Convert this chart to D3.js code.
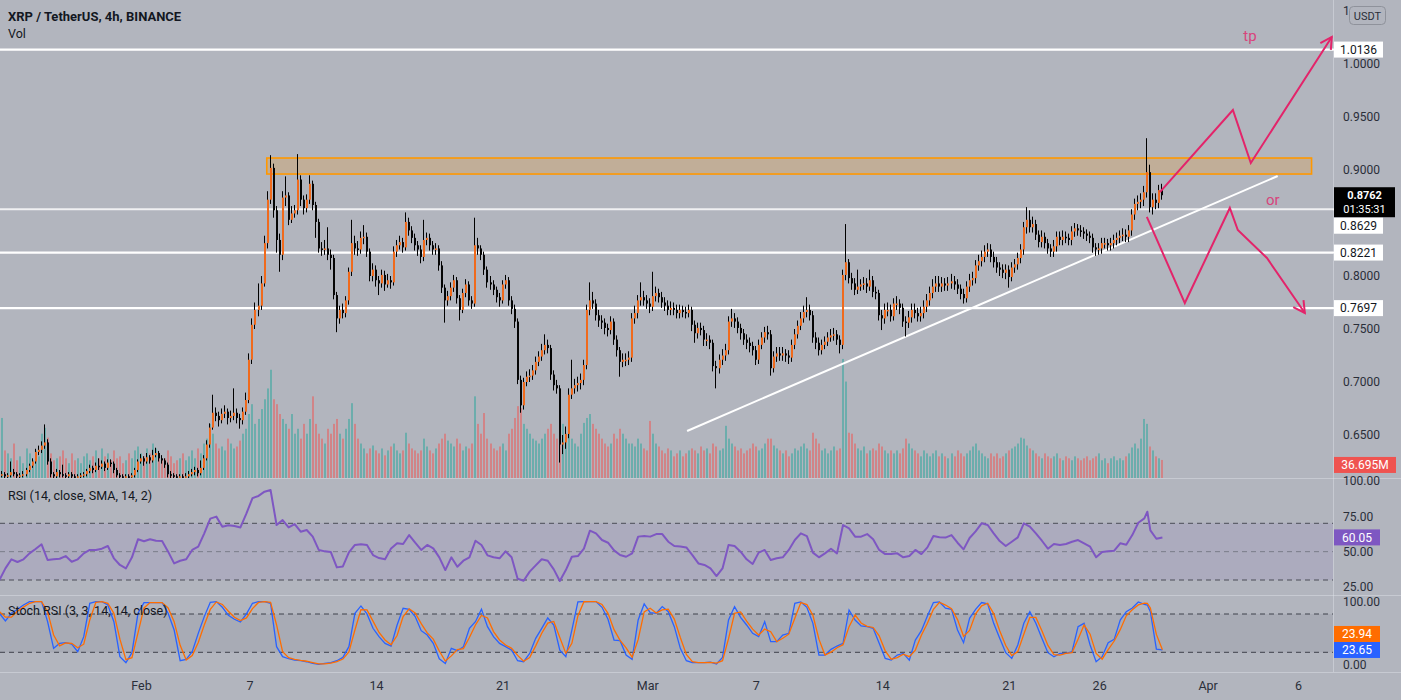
<!DOCTYPE html>
<html><head><meta charset="utf-8">
<script src="https://cdn.jsdelivr.net/npm/d3@7/dist/d3.min.js"></script>
<style>
html,body{margin:0;padding:0;background:#b2b5be;overflow:hidden}
svg{display:block}
text{font-family:Roboto,"Open Sans","Liberation Sans",sans-serif}
</style></head><body>
<svg id="chart" width="1401" height="700"></svg>
<script>
// ---------- DATA (XRP / TetherUS, 4h candles, first candle 2022-01-24 04:00 UTC) ----------
const firstCandleUTC = "2022-01-24T04:00:00Z";
const firstOpen = .614;
const close = [
.612,.613,.611,.612,.615,.613,.611,.612,.613,.617,
.621,.625,.634,.636,.640,.643,.625,.613,.611,.615,
.613,.612,.611,.613,.611,.610,.611,.612,.613,.616,
.619,.617,.621,.620,.623,.619,.624,.623,.617,.612,
.611,.610,.611,.610,.612,.617,.625,.628,.625,.629,
.626,.631,.633,.628,.626,.622,.613,.612,.611,.610,
.611,.610,.611,.613,.615,.617,.614,.619,.628,.641,
.657,.671,.668,.664,.670,.672,.666,.668,.671,.666,
.664,.672,.683,.721,.754,.768,.772,.793,.831,.872,
.902,.862,.834,.820,.874,.876,.853,.859,.862,.891,
.872,.864,.872,.887,.867,.851,.826,.825,.826,.820,
.817,.782,.760,.768,.765,.777,.804,.831,.826,.825,
.836,.837,.823,.800,.806,.796,.793,.801,.792,.796,
.794,.823,.829,.832,.827,.851,.843,.836,.829,.825,
.818,.834,.836,.829,.825,.826,.810,.789,.777,.781,
.789,.796,.779,.768,.784,.792,.777,.774,.829,.826,
.820,.806,.794,.792,.787,.780,.777,.792,.796,.777,
.769,.757,.702,.678,.700,.705,.706,.711,.719,.724,
.730,.735,.732,.707,.697,.694,.641,.643,.651,.688,
.694,.697,.699,.702,.716,.768,.777,.774,.763,.758,
.756,.751,.749,.757,.740,.730,.719,.721,.721,.723,
.760,.765,.777,.780,.777,.774,.771,.781,.784,.780,
.775,.772,.768,.770,.768,.765,.768,.766,.765,.768,
.754,.746,.751,.749,.740,.740,.737,.715,.713,.721,
.725,.730,.757,.760,.757,.751,.746,.740,.737,.734,
.730,.721,.735,.742,.747,.745,.713,.724,.727,.725,
.727,.725,.723,.735,.745,.753,.760,.766,.768,.763,
.742,.737,.730,.735,.738,.742,.744,.745,.740,.735,
.801,.813,.798,.793,.787,.790,.792,.793,.790,.796,
.785,.784,.763,.760,.768,.768,.762,.774,.774,.770,
.757,.756,.761,.768,.765,.762,.765,.771,.777,.784,
.790,.793,.790,.793,.791,.793,.795,.792,.788,.783,
.779,.790,.796,.798,.810,.814,.818,.823,.825,.818,
.813,.808,.806,.803,.806,.799,.808,.811,.817,.825,
.846,.853,.846,.849,.839,.832,.837,.831,.826,.823,
.828,.837,.834,.837,.836,.834,.842,.845,.843,.842,
.840,.838,.836,.827,.825,.826,.831,.831,.829,.831,
.834,.836,.838,.839,.837,.843,.858,.868,.870,.872,
.879,.898,.865,.872,.869,.881,.8762];
const high = [
.617,.616,.615,.614,.625,.618,.615,.614,.616,.619,
.623,.628,.637,.640,.644,.660,.646,.628,.615,.618,
.617,.622,.614,.615,.615,.613,.613,.614,.615,.618,
.622,.621,.624,.628,.626,.625,.627,.627,.625,.619,
.614,.613,.613,.613,.614,.619,.627,.632,.630,.633,
.631,.636,.638,.635,.631,.628,.624,.616,.614,.613,
.613,.613,.614,.616,.618,.620,.619,.626,.631,.645,
.661,.688,.676,.672,.675,.678,.675,.673,.694,.675,
.670,.676,.690,.727,.760,.775,.793,.800,.838,.880,
.914,.906,.866,.840,.880,.894,.879,.866,.867,.915,
.895,.876,.877,.895,.890,.870,.854,.832,.834,.846,
.825,.820,.785,.772,.774,.781,.808,.853,.838,.833,
.842,.848,.841,.826,.812,.810,.800,.806,.805,.802,
.800,.828,.834,.838,.836,.860,.855,.847,.840,.833,
.829,.853,.841,.840,.833,.831,.829,.814,.792,.786,
.794,.801,.799,.782,.788,.797,.795,.781,.855,.836,
.829,.823,.809,.800,.796,.790,.784,.796,.801,.799,
.781,.773,.760,.706,.704,.710,.712,.716,.724,.729,
.736,.745,.740,.735,.711,.702,.697,.650,.658,.694,
.721,.703,.705,.708,.721,.773,.794,.785,.778,.768,
.763,.760,.755,.762,.760,.744,.733,.727,.727,.729,
.765,.772,.782,.794,.786,.782,.779,.804,.790,.788,
.785,.780,.777,.776,.775,.773,.773,.772,.771,.773,
.771,.758,.756,.756,.753,.746,.744,.740,.720,.726,
.731,.736,.762,.769,.765,.761,.755,.750,.745,.742,
.738,.734,.740,.747,.752,.753,.749,.729,.733,.733,
.733,.731,.730,.740,.750,.758,.766,.772,.780,.773,
.767,.747,.742,.740,.743,.747,.750,.751,.749,.744,
.806,.849,.816,.803,.798,.806,.797,.799,.798,.806,
.800,.790,.787,.768,.774,.775,.773,.779,.781,.778,
.774,.762,.767,.774,.774,.770,.771,.777,.783,.790,
.797,.800,.800,.799,.798,.799,.802,.800,.797,.792,
.788,.795,.802,.804,.815,.820,.824,.829,.831,.830,
.823,.818,.813,.811,.811,.810,.813,.816,.822,.830,
.851,.865,.862,.856,.853,.843,.843,.841,.835,.830,
.834,.842,.842,.843,.842,.840,.847,.850,.849,.848,
.846,.844,.842,.840,.831,.831,.836,.836,.835,.836,
.839,.841,.843,.845,.844,.848,.863,.873,.876,.878,
.885,.930,.905,.878,.878,.886,.887];
const low = [
.609,.610,.609,.609,.610,.611,.609,.609,.610,.611,
.615,.619,.623,.631,.633,.637,.622,.610,.609,.609,
.610,.610,.609,.609,.609,.608,.608,.609,.610,.611,
.614,.614,.615,.617,.618,.616,.617,.620,.614,.610,
.609,.608,.608,.608,.608,.610,.615,.623,.621,.623,
.623,.624,.629,.625,.623,.619,.610,.609,.609,.608,
.608,.608,.608,.609,.611,.612,.611,.612,.617,.626,
.638,.655,.663,.658,.661,.666,.660,.662,.664,.661,
.656,.660,.669,.680,.717,.750,.762,.768,.790,.826,
.868,.855,.822,.804,.815,.866,.848,.850,.855,.858,
.866,.858,.860,.868,.862,.836,.822,.819,.820,.815,
.806,.778,.747,.755,.760,.761,.773,.800,.820,.819,
.821,.830,.818,.795,.795,.790,.782,.789,.786,.789,
.788,.791,.818,.825,.822,.824,.838,.831,.824,.819,
.812,.814,.829,.824,.820,.820,.805,.784,.756,.772,
.777,.785,.774,.758,.765,.780,.772,.769,.771,.820,
.815,.801,.789,.787,.782,.775,.771,.774,.788,.772,
.764,.751,.698,.671,.674,.696,.700,.702,.707,.715,
.720,.726,.727,.702,.692,.689,.624,.632,.637,.647,
.684,.689,.691,.693,.697,.712,.763,.769,.758,.752,
.750,.745,.743,.745,.735,.724,.705,.714,.715,.716,
.719,.755,.760,.772,.772,.769,.765,.767,.776,.775,
.770,.767,.763,.763,.763,.760,.760,.761,.760,.761,
.748,.737,.741,.744,.734,.734,.731,.710,.694,.708,
.716,.720,.726,.752,.751,.746,.740,.735,.731,.728,
.725,.716,.717,.731,.737,.740,.706,.709,.719,.720,
.720,.719,.717,.719,.731,.741,.749,.756,.761,.758,
.737,.731,.725,.726,.731,.734,.738,.739,.735,.727,
.731,.796,.793,.787,.782,.783,.786,.787,.784,.786,
.780,.778,.758,.749,.755,.762,.757,.758,.768,.764,
.752,.743,.751,.756,.760,.757,.757,.760,.766,.772,
.779,.785,.785,.785,.786,.786,.788,.787,.783,.778,
.774,.775,.785,.791,.793,.805,.809,.813,.818,.813,
.808,.803,.800,.798,.797,.789,.795,.803,.806,.812,
.820,.840,.841,.841,.834,.827,.827,.826,.821,.818,
.818,.823,.829,.829,.831,.829,.829,.837,.838,.837,
.835,.833,.831,.822,.819,.820,.821,.826,.824,.824,
.826,.829,.831,.833,.832,.832,.838,.853,.862,.864,
.866,.874,.860,.858,.863,.864,.872];
// volume in millions of XRP
const volume = [
140,122,56,50,40,70,36,44,30,60, 50,36,56,44,90,102,82,50,36,40,
44,56,40,30,50,36,40,30,44,50, 36,44,56,40,60,44,50,36,56,40,
44,30,36,50,40,56,64,50,44,60, 50,70,60,44,36,40,56,44,30,36,
40,50,36,44,56,40,60,50,70,80, 110,90,70,60,64,56,80,70,60,64,
76,90,100,130,150,110,120,140,160,182, 220,160,150,130,120,110,100,130,90,100,
80,110,90,120,166,110,90,80,70,100, 90,110,120,90,80,100,120,152,110,80,
70,60,50,60,66,56,50,60,46,56, 64,70,56,50,56,92,70,60,56,50,
56,80,64,56,50,60,70,80,90,76, 70,64,80,70,56,64,60,70,166,110,
90,132,80,70,60,56,64,70,56,90, 100,122,146,142,110,100,90,80,76,70,
80,90,100,110,90,80,120,110,90,100, 80,70,64,90,112,122,130,110,100,90,
80,70,64,70,90,80,100,90,80,70, 70,64,80,70,60,56,116,90,70,64,
56,50,60,56,44,50,56,44,50,56, 60,56,50,64,56,60,50,70,64,56,
60,106,80,70,64,56,60,50,56,60, 70,64,56,60,70,80,80,66,60,56,
50,56,44,50,60,56,64,70,60,56, 92,80,70,56,60,50,56,64,56,60,
242,196,92,90,70,60,56,64,50,56, 60,56,70,64,56,50,56,50,56,50,
60,80,70,60,56,50,44,56,50,44, 50,56,44,50,44,40,50,44,56,50,
44,50,56,64,70,56,50,44,40,50, 44,50,40,44,50,56,60,64,70,82,
80,66,60,56,50,44,40,50,44,40, 44,50,40,36,44,40,36,44,40,36,
40,44,36,40,44,50,36,40,30,40, 44,36,40,36,44,50,62,70,60,80,
120,110,64,56,44,40,36.695];
// oscillators, read every second candle (candle index in oscIndex)
const oscIndex = d3.range(0, 381, 2).concat([381, 382, 384, 386]);
const rsi = [
30.0,38.2,44.6,42.7,44.6,48.8,51.9,55.2,44.1,44.6,
45.0,46.9,42.9,44.6,48.8,51.2,51.2,52.1,54.0,45.3,
40.6,38.2,46.0,58.7,57.3,58.7,57.7,57.5,50.0,41.7,
43.6,44.6,51.2,53.5,62.9,73.3,74.7,67.6,68.6,68.1,
67.1,77.0,87.8,89.3,92.3,93.5,68.8,72.3,67.1,69.5,
64.1,65.3,60.6,51.2,50.2,49.7,38.9,39.6,49.5,54.7,
55.2,54.7,47.6,45.5,44.6,52.3,55.9,55.4,61.7,56.3,
51.2,54.7,52.3,46.0,37.0,46.0,39.4,43.6,46.0,57.7,
54.7,47.4,46.0,45.3,50.2,46.0,30.9,29.5,35.9,40.3,
44.6,43.6,37.5,29.3,37.0,46.4,46.9,52.1,64.8,62.9,
58.2,56.3,50.9,47.6,46.4,48.8,60.6,61.0,60.6,62.4,
62.4,57.0,54.0,53.7,53.0,47.6,41.7,40.6,38.2,32.8,
38.2,54.7,54.0,50.0,44.6,41.3,49.3,51.2,44.1,45.3,
46.0,51.2,58.2,62.9,61.0,49.3,46.0,48.8,52.1,48.8,
68.8,66.4,60.6,60.6,62.4,58.7,51.2,48.3,48.3,48.8,
46.0,46.9,51.2,48.3,53.0,61.0,60.1,59.9,61.7,56.3,
51.6,59.6,64.3,70.0,68.8,62.9,57.5,54.0,57.0,60.1,
70.0,67.6,62.9,57.7,52.1,55.4,54.7,55.4,57.0,58.2,
55.9,53.5,46.0,49.7,50.2,50.7,55.9,54.9,61.7,70.4,
73.5,78.2,65.0,59.1,60.05];
const stochK = [
81.1,69.1,81.1,87.4,94.2,99.4,99.4,99.4,68.0,26.2,
34.0,35.1,33.0,20.9,44.5,96.8,99.4,99.4,94.2,68.0,
13.1,3.7,19.4,81.1,97.9,97.9,97.9,97.9,81.1,54.9,
6.8,8.9,20.9,49.7,75.9,98.4,99.4,90.5,78.0,71.7,
67.5,80.1,96.8,99.4,99.4,96.8,28.8,13.1,9.9,7.8,
6.8,5.2,2.6,1.0,2.6,3.7,6.8,12.0,28.8,81.1,
92.6,80.1,57.6,44.5,34.0,29.8,62.8,89.0,87.4,75.9,
53.9,47.1,34.0,9.9,2.6,26.2,22.5,28.8,57.6,68.0,
87.4,60.2,44.5,34.0,28.8,23.5,6.8,5.2,18.3,41.9,
57.6,73.8,62.8,23.5,13.1,54.9,98.9,99.4,99.4,99.4,
90.5,71.7,39.2,38.2,15.7,8.9,70.6,95.8,82.2,81.1,
91.6,83.7,60.2,26.2,6.8,3.7,3.7,3.7,4.7,1.6,
12.0,70.6,91.6,74.8,62.8,49.7,44.5,68.0,36.6,36.6,
47.1,49.7,96.8,98.9,90.5,65.4,15.7,15.7,24.6,29.8,
34.0,86.3,70.6,61.2,60.2,57.6,34.0,10.5,7.8,15.7,
18.3,7.8,39.2,53.9,76.9,97.9,98.9,89.0,87.4,54.9,
35.1,73.3,87.4,97.9,95.8,65.4,41.9,19.4,10.5,31.4,
65.4,83.7,65.4,41.9,19.4,13.1,18.3,18.3,20.9,60.2,
65.4,31.4,5.2,13.1,35.1,40.3,70.6,83.7,89.5,98.9,
95.2,94.0,83.7,25.0,23.65];
const stochD = [
84.0,75.1,75.1,84.3,90.8,96.8,99.4,99.4,83.7,47.1,
30.1,34.6,34.1,27.0,32.7,70.7,98.1,99.4,96.8,81.1,
40.6,8.4,11.6,50.3,89.5,97.9,97.9,97.9,89.5,68.0,
30.9,7.9,14.9,35.3,62.8,87.2,98.9,95.0,84.3,74.9,
69.6,73.8,88.5,98.1,99.4,98.1,62.8,21.0,11.5,8.9,
7.3,6.0,3.9,1.8,1.8,3.2,5.3,9.4,20.4,55.0,
86.9,86.4,68.9,51.1,39.3,31.9,46.3,75.9,88.2,81.7,
64.9,50.5,40.6,22.0,6.3,14.4,24.4,25.7,43.2,62.8,
77.7,73.8,52.4,39.3,31.4,26.2,15.2,6.0,11.8,30.1,
49.8,65.7,68.3,43.2,18.3,34.0,76.9,99.2,99.4,99.4,
95.0,81.1,55.5,38.7,27.0,12.3,39.8,83.2,89.0,81.7,
86.4,87.7,72.0,43.2,16.5,5.3,3.7,3.7,4.2,3.2,
6.8,41.3,81.1,83.2,68.8,56.3,47.1,56.3,52.3,36.6,
41.9,48.4,73.3,97.9,94.7,78.0,40.6,15.7,20.2,27.2,
31.9,60.2,78.5,65.9,60.7,58.9,45.8,22.3,9.2,11.8,
17.0,13.1,23.5,46.6,65.4,87.4,98.4,94.0,88.2,71.2,
45.0,54.2,80.4,92.7,96.9,80.6,53.7,30.7,15.0,21.0,
48.4,74.6,74.6,53.7,30.7,16.3,15.7,18.3,19.6,40.6,
62.8,48.4,18.3,9.2,24.1,37.7,55.5,77.2,86.6,94.2,
97.1,96.5,89.5,48.0,23.94];
// axis ticks
const priceTicks = [1.05, 1.0, 0.95, 0.90, 0.80, 0.75, 0.70, 0.65];
const rsiTicks = [100, 75, 50, 25];
const stochTicks = [100, 0];
const timeTickDates = ["2022-02-01","2022-02-07","2022-02-14","2022-02-21","2022-03-01","2022-03-07","2022-03-14","2022-03-21","2022-03-26","2022-04-01","2022-04-06"];
const timeTickLabels = ["Feb","7","14","21","Mar","7","14","21","26","Apr","6"];
// drawings
const levelPrices = [1.0136, 0.8629, 0.8221, 0.7697];
const zoneTimes = ["2022-02-07T23:00Z","2022-04-06T18:00Z"];
const zonePrices = [0.9113, 0.8962];
const trendTimes = ["2022-03-03T05:00Z","2022-04-04T21:00Z"];
const trendPrices = [0.6538, 0.8943];
const upPathTimes = ["2022-03-29T08:40Z","2022-04-02T09:35Z","2022-04-03T09:20Z","2022-04-07T20:50Z"];
const upPathPrices = [0.8792, 0.9566, 0.9066, 1.0255];
const downPathTimes = ["2022-03-28T15:20Z","2022-03-30T17:45Z","2022-04-02T05:30Z","2022-04-02T16:05Z","2022-04-04T06:45Z","2022-04-06T09:05Z"];
const downPathPrices = [0.8557, 0.7745, 0.8642, 0.8434, 0.8170, 0.7651];
const notes = [{t:"2022-04-03T08:10Z", p:1.027, s:"tp"}, {t:"2022-04-04T14:25Z", p:0.8717, s:"or"}];
const lastPrice = 0.8762, countdown = "01:35:31", lastVolLabel = "36.695M";

// ---------- RENDER ----------
const svg = d3.select('#chart');
const W = 1401, PR = 1333;
const mainB = 478, rsiT = 479, rsiB = 595, stT = 596, stB = 672;
const BG = '#b2b5be';
svg.append('rect').attr('width', W).attr('height', 700).attr('fill', BG);

const defs = svg.append('defs');
function clip(id, x0, y0, w, h){ defs.append('clipPath').attr('id', id).append('rect').attr('x',x0).attr('y',y0).attr('width',w).attr('height',h); }
clip('cMain', 0, 0, PR, mainB); clip('cRsi', 0, rsiT, PR, rsiB - rsiT); clip('cSt', 0, stT, PR, stB - stT);
// price-axis clip: everything except the USDT button corner
const cTop = defs.append('clipPath').attr('id', 'cTop');
cTop.append('rect').attr('x', 0).attr('y', 0).attr('width', 1348).attr('height', 700);
cTop.append('rect').attr('x', 0).attr('y', 26).attr('width', W).attr('height', 674);

const x = d3.scaleUtc().domain([new Date(Date.UTC(2022,1,1)), new Date(Date.UTC(2022,3,6))]).range([141, 1298]);
const y = d3.scaleLinear().domain([0.65, 1.0]).range([435, 64]);
const yV = d3.scaleLinear().domain([0, 250]).range([478, 355]);
const yR = d3.scaleLinear().domain([30, 70]).range([580, 523.3]);
const yS = d3.scaleLinear().domain([20, 80]).range([652.3, 614]);

const t0 = new Date(firstCandleUTC).getTime();
const STEP = 4 * 3600 * 1000;
const ct = i => new Date(t0 + i * STEP);
const candles = close.map((c, i) => ({ i, t: ct(i), o: i ? close[i-1] : firstOpen, c, h: high[i], l: low[i], v: volume[i] }));

const UP = '#f06a1c', DOWN = '#050505';
const gMain = svg.append('g').attr('clip-path', 'url(#cMain)');

// volume
gMain.append('g').selectAll('rect').data(candles).join('rect')
  .attr('x', d => Math.round(x(d.t)) - 1).attr('width', 2)
  .attr('y', d => yV(d.v)).attr('height', d => yV(0) - yV(d.v))
  .attr('fill', d => d.c >= d.o ? 'rgba(38,166,154,0.5)' : 'rgba(239,83,80,0.5)');

// horizontal levels
levelPrices.forEach((p, k) => {
  gMain.append('line').attr('x1', 0).attr('x2', PR).attr('y1', y(p)).attr('y2', y(p))
    .attr('stroke', k === 1 ? 'rgba(255,255,255,0.8)' : '#ffffff').attr('stroke-width', k === 1 ? 2 : 2.2);
});

// zone
gMain.append('rect')
  .attr('x', x(new Date(zoneTimes[0]))).attr('y', y(zonePrices[0]))
  .attr('width', x(new Date(zoneTimes[1])) - x(new Date(zoneTimes[0])))
  .attr('height', y(zonePrices[1]) - y(zonePrices[0]))
  .attr('fill', 'rgba(255,152,0,0.2)').attr('stroke', '#ff9800').attr('stroke-width', 1.6);

// trend line
gMain.append('line')
  .attr('x1', x(new Date(trendTimes[0]))).attr('y1', y(trendPrices[0]))
  .attr('x2', x(new Date(trendTimes[1]))).attr('y2', y(trendPrices[1]))
  .attr('stroke', '#ffffff').attr('stroke-width', 2);

// candles
const gC = gMain.append('g');
gC.selectAll('rect.w').data(candles).join('rect').attr('class','w')
  .attr('x', d => Math.round(x(d.t)) - 1).attr('width', 1)
  .attr('y', d => y(d.h)).attr('height', d => Math.max(1, y(d.l) - y(d.h)))
  .attr('fill', '#000');
gC.selectAll('rect.b').data(candles).join('rect').attr('class','b')
  .attr('x', d => Math.round(x(d.t)) - 1).attr('width', 2)
  .attr('y', d => y(Math.max(d.o, d.c))).attr('height', d => Math.max(1.5, Math.abs(y(d.o) - y(d.c))))
  .attr('fill', d => d.c >= d.o ? UP : DOWN);

// pink arrows
const PINK = '#e3246a';
function pathOf(times, prices){ return times.map((t, k) => [x(new Date(t)), y(prices[k])]); }
function arrow(pts){
  gMain.append('path').attr('d', d3.line()(pts)).attr('fill','none').attr('stroke', PINK).attr('stroke-width', 2).attr('stroke-linejoin','miter');
  const [a, b] = [pts[pts.length-2], pts[pts.length-1]];
  const ang = Math.atan2(b[1]-a[1], b[0]-a[0]);
  const L = 13, sp = 0.5;
  const p1 = [b[0] - L*Math.cos(ang - sp), b[1] - L*Math.sin(ang - sp)];
  const p2 = [b[0] - L*Math.cos(ang + sp), b[1] - L*Math.sin(ang + sp)];
  gMain.append('path').attr('d', d3.line()([p1, b, p2])).attr('fill','none').attr('stroke', PINK).attr('stroke-width', 2);
}
arrow(pathOf(upPathTimes, upPathPrices));
arrow(pathOf(downPathTimes, downPathPrices));
notes.forEach(n => gMain.append('text').attr('x', x(new Date(n.t))).attr('y', y(n.p)).attr('dy','0.35em')
  .attr('text-anchor','middle').attr('font-size', 15).attr('fill', '#d8447c').text(n.s));

// ---------- RSI pane ----------
const osc = oscIndex.map((ci, k) => ({ t: ct(ci), r: rsi[k], k: stochK[k], d: stochD[k] }));
const gR = svg.append('g').attr('clip-path', 'url(#cRsi)');
gR.append('rect').attr('x', 0).attr('width', PR).attr('y', yR(70)).attr('height', yR(30) - yR(70)).attr('fill', 'rgba(126,87,194,0.1)');
[[70,'#4a4d57'],[50,'rgba(90,93,103,0.6)'],[30,'#4a4d57']].forEach(([v,c]) =>
  gR.append('line').attr('x1',0).attr('x2',PR).attr('y1',yR(v)).attr('y2',yR(v)).attr('stroke',c).attr('stroke-dasharray','5,4').attr('stroke-width',1));
gR.append('path').datum(osc).attr('d', d3.line().x(d => x(d.t)).y(d => yR(d.r)))
  .attr('fill','none').attr('stroke','#7e57c2').attr('stroke-width',2).attr('stroke-linejoin','round');

// ---------- Stoch RSI pane ----------
const gS = svg.append('g').attr('clip-path', 'url(#cSt)');
gS.append('rect').attr('x', 0).attr('width', PR).attr('y', yS(80)).attr('height', yS(20) - yS(80)).attr('fill', 'rgba(110,113,124,0.14)');
[80,20].forEach(v => gS.append('line').attr('x1',0).attr('x2',PR).attr('y1',yS(v)).attr('y2',yS(v)).attr('stroke','#3f424c').attr('stroke-dasharray','5,4'));
gS.append('path').datum(osc).attr('d', d3.line().x(d => x(d.t)).y(d => yS(d.k)))
  .attr('fill','none').attr('stroke','#2962ff').attr('stroke-width',1.3);
gS.append('path').datum(osc).attr('d', d3.line().x(d => x(d.t)).y(d => yS(d.d)))
  .attr('fill','none').attr('stroke','#ff6d00').attr('stroke-width',1.3);

// separators
const SEP = 'rgba(225,228,235,0.45)';
[mainB+0.5, rsiB+0.5, stB+0.5].forEach(yy => svg.append('line').attr('x1',0).attr('x2',W).attr('y1',yy).attr('y2',yy).attr('stroke',SEP));
svg.append('line').attr('x1',PR+0.5).attr('x2',PR+0.5).attr('y1',0).attr('y2',stB).attr('stroke',SEP);

// ---------- axes ----------
const AX = '#2a2e39';
function styleAxis(g){ g.select('.domain').remove(); g.selectAll('text').attr('fill', AX).attr('font-size', 12).attr('font-family','Roboto,"Open Sans",sans-serif'); g.selectAll('line').remove(); }
svg.append('g').attr('clip-path', 'url(#cTop)').append('g').attr('transform', `translate(${PR},0)`)
  .call(d3.axisRight(y).tickValues(priceTicks).tickFormat(d3.format('.4f')).tickSize(0).tickPadding(10)).call(styleAxis);
svg.append('g').attr('transform', `translate(${PR},0)`)
  .call(d3.axisRight(yR).tickValues(rsiTicks).tickFormat(d3.format('.2f')).tickSize(0).tickPadding(10)).call(styleAxis);
svg.append('g').attr('transform', `translate(${PR},0)`)
  .call(d3.axisRight(yS).tickValues(stochTicks).tickFormat(d3.format('.2f')).tickSize(0).tickPadding(10)).call(styleAxis);
svg.append('g').attr('transform', `translate(0,${stB})`)
  .call(d3.axisBottom(x).tickValues(timeTickDates.map(s => new Date(s + 'T00:00:00Z'))).tickFormat((d,i) => timeTickLabels[i]).tickSize(0).tickPadding(9))
  .call(styleAxis).selectAll('text').attr('font-size', 12.5);

// USDT button
svg.append('rect').attr('x', 1349.5).attr('y', 6.5).attr('width', 36).attr('height', 18).attr('rx', 4).attr('fill', BG).attr('stroke', '#8f929b');
svg.append('text').attr('x', 1367.5).attr('y', 19.5).attr('text-anchor','middle').attr('font-size', 11).attr('fill', AX).text('USDT');

// ---------- price-scale labels ----------
function box(yc, h, bg, fg, lines, w, bold, fs, lh){
  fs = fs || 12; lh = lh || 14;
  const g = svg.append('g');
  g.append('rect').attr('x', PR + 1).attr('y', yc - h/2).attr('width', w).attr('height', h).attr('fill', bg);
  const n = lines.length;
  lines.forEach((s, k) => g.append('text').attr('x', PR + 1 + w/2).attr('y', yc + (k - (n-1)/2) * lh).attr('dy', '0.35em')
    .attr('text-anchor','middle').attr('font-size', fs).attr('font-weight', bold && k === 0 ? 700 : 400).attr('fill', fg).text(s));
}
levelPrices.forEach(p => svg.append('line').attr('x1', PR).attr('x2', PR + 6).attr('y1', y(p)).attr('y2', y(p)).attr('stroke', '#fff').attr('stroke-width', 2));
const curTop = y(lastPrice) - 8;
box(curTop + 15, 30, '#000000', '#ffffff', [d3.format('.4f')(lastPrice), countdown], 61, true, 11, 13.5);
let prevBottom = curTop + 30;
levelPrices.slice().sort((a,b) => b - a).forEach(p => {
  let yc = y(p);
  if (p < lastPrice && yc - 8 < prevBottom) yc = prevBottom + 8.5;
  box(yc, 16, '#ffffff', '#131722', [d3.format('.4f')(p)], 49, false);
  if (p < lastPrice) prevBottom = yc + 8;
});
box(yV(volume[volume.length - 1]) + 5, 16, '#ef5350', '#ffffff', [lastVolLabel], 62, false);
box(yR(rsi[rsi.length - 1]), 16, '#7e57c2', '#ffffff', [d3.format('.2f')(rsi[rsi.length - 1])], 46, false);
const yK = yS(stochK[stochK.length - 1]);
box(yK, 16, '#2962ff', '#ffffff', [d3.format('.2f')(stochK[stochK.length - 1])], 46, false);
box(yK - 16, 16, '#ff6d00', '#ffffff', [d3.format('.2f')(stochD[stochD.length - 1])], 46, false);

// ---------- legends ----------
svg.append('text').attr('x', 8).attr('y', 21).attr('font-size', 13).attr('font-weight', 700).attr('fill', '#131722').text('XRP / TetherUS, 4h, BINANCE');
svg.append('text').attr('x', 8).attr('y', 38).attr('font-size', 12.5).attr('fill', '#131722').text('Vol');
svg.append('text').attr('x', 8).attr('y', 500).attr('font-size', 12.5).attr('fill', '#131722').text('RSI (14, close, SMA, 14, 2)');
svg.append('text').attr('x', 8).attr('y', 615).attr('font-size', 12.5).attr('fill', '#131722').text('Stoch RSI (3, 3, 14, 14, close)');
</script>
</body></html>
